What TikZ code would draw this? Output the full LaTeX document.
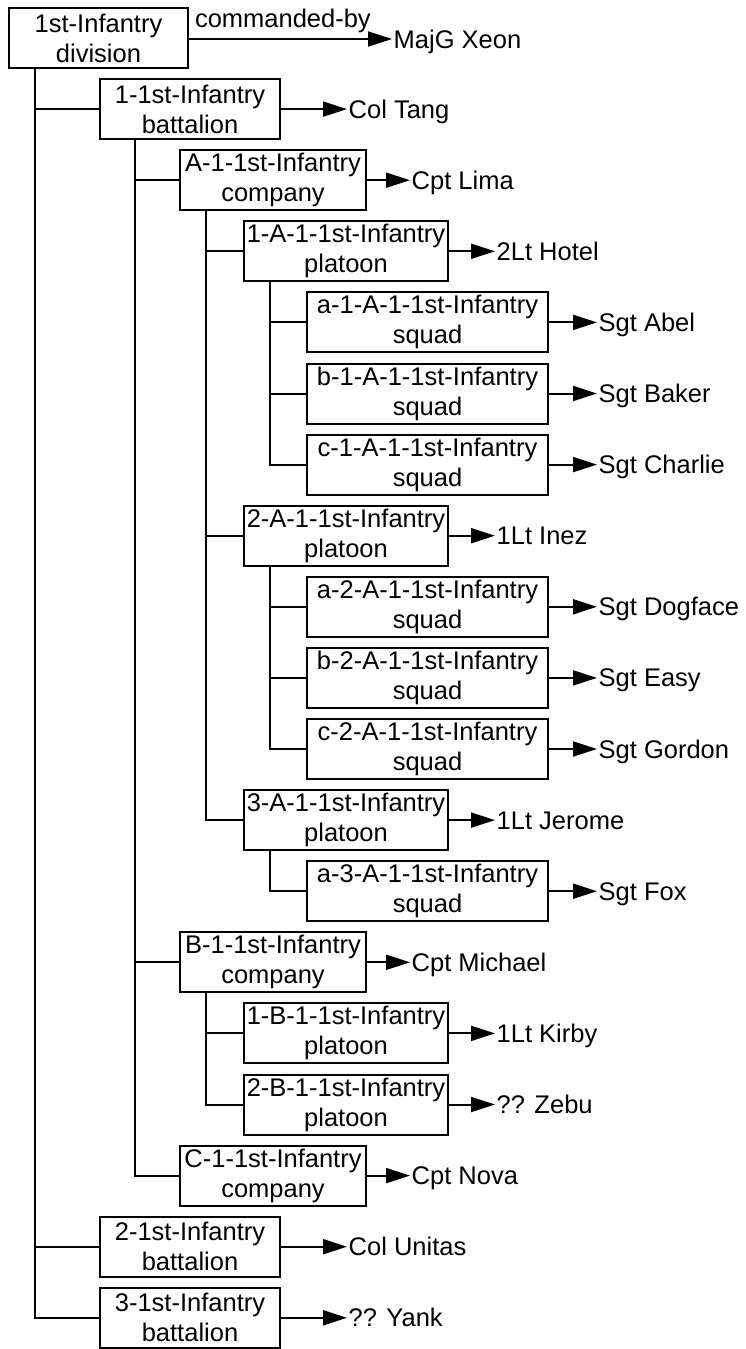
\documentclass[tikz,border=0pt]{standalone}
\usepackage{fontspec}
\setmainfont{Liberation Sans}
\usetikzlibrary{arrows.meta}

\begin{document}
\begin{tikzpicture}[x=1pt, y=-1pt,
    unidad/.style={draw, line width=2pt, align=center, minimum height=60pt, inner sep=0pt, font=\fontsize{25.5}{30}\selectfont},
    division/.style={unidad, minimum width=179pt},
    batallon/.style={unidad, minimum width=180pt},
    compania/.style={unidad, minimum width=186pt},
    peloton/.style={unidad, minimum width=204pt},
    escuadra/.style={unidad, minimum width=241pt},
    jefe/.style={anchor=west, inner sep=1.5pt, font=\fontsize{25.5}{30}\selectfont, text height=18pt, text depth=0pt},
    mando/.style={line width=2pt, -{Triangle[length=24pt, width=15pt]}},
    rama/.style={line width=2pt}]
            % Marco de la figura
            \useasboundingbox (0,0) rectangle (745,1349);

            % Division y su jefe
            \node[division] (div) at (98.5,38) {1st-Infantry\\division};
            \node[jefe] (cdiv) at (392,39) {MajG Xeon};
            \draw[mando] (div.east |- cdiv.west) -- node[pos=0, anchor=south west, inner xsep=5pt, inner ysep=5pt, font=\fontsize{25.5}{30}\selectfont] {commanded-by} (cdiv.west);

            % Batallones
            \node[batallon] (bat1) at (190,109.1) {1-1st-Infantry\\battalion};
            \node[batallon] (bat2) at (190,1246.7) {2-1st-Infantry\\battalion};
            \node[batallon] (bat3) at (190,1317.8) {3-1st-Infantry\\battalion};

            % Companias
            \node[compania] (coA) at (273,180.2) {A-1-1st-Infantry\\company};
            \node[compania] (coB) at (273,962.3) {B-1-1st-Infantry\\company};
            \node[compania] (coC) at (273,1175.6) {C-1-1st-Infantry\\company};

            % Pelotones
            \node[peloton] (plA1) at (346,251.3) {1-A-1-1st-Infantry\\platoon};
            \node[peloton] (plA2) at (346,535.7) {2-A-1-1st-Infantry\\platoon};
            \node[peloton] (plA3) at (346,820.1) {3-A-1-1st-Infantry\\platoon};
            \node[peloton] (plB1) at (346,1033.4) {1-B-1-1st-Infantry\\platoon};
            \node[peloton] (plB2) at (346,1104.5) {2-B-1-1st-Infantry\\platoon};

            % Escuadras
            \node[escuadra] (sqA1a) at (427.5,322.4) {a-1-A-1-1st-Infantry\\squad};
            \node[escuadra] (sqA1b) at (427.5,393.5) {b-1-A-1-1st-Infantry\\squad};
            \node[escuadra] (sqA1c) at (427.5,464.6) {c-1-A-1-1st-Infantry\\squad};
            \node[escuadra] (sqA2a) at (427.5,606.8) {a-2-A-1-1st-Infantry\\squad};
            \node[escuadra] (sqA2b) at (427.5,677.9) {b-2-A-1-1st-Infantry\\squad};
            \node[escuadra] (sqA2c) at (427.5,749) {c-2-A-1-1st-Infantry\\squad};
            \node[escuadra] (sqA3a) at (427.5,891.2) {a-3-A-1-1st-Infantry\\squad};

            % Jefes
            \node[jefe] (cbat1) at (347,109.1) {Col Tang};
            \node[jefe] (cbat2) at (347,1246.7) {Col Unitas};
            \node[jefe] (cbat3) at (347,1317.8) {?? Yank};
            \node[jefe] (ccoA) at (410,180.2) {Cpt Lima};
            \node[jefe] (ccoB) at (410,962.3) {Cpt Michael};
            \node[jefe] (ccoC) at (410,1175.6) {Cpt Nova};
            \node[jefe] (cplA1) at (495,251.3) {2Lt Hotel};
            \node[jefe] (cplA2) at (495,535.7) {1Lt Inez};
            \node[jefe] (cplA3) at (495,820.1) {1Lt Jerome};
            \node[jefe] (cplB1) at (495,1033.4) {1Lt Kirby};
            \node[jefe] (cplB2) at (495,1104.5) {?? Zebu};
            \node[jefe] (csqA1a) at (597,322.4) {Sgt Abel};
            \node[jefe] (csqA1b) at (597,393.5) {Sgt Baker};
            \node[jefe] (csqA1c) at (597,464.6) {Sgt Charlie};
            \node[jefe] (csqA2a) at (597,606.8) {Sgt Dogface};
            \node[jefe] (csqA2b) at (597,677.9) {Sgt Easy};
            \node[jefe] (csqA2c) at (597,749) {Sgt Gordon};
            \node[jefe] (csqA3a) at (597,891.2) {Sgt Fox};

            % Flechas de mando
            \foreach \u in {bat1,bat2,bat3,coA,coB,coC,plA1,plA2,plA3,plB1,plB2,sqA1a,sqA1b,sqA1c,sqA2a,sqA2b,sqA2c,sqA3a}
                \draw[mando] (\u.east) -- (c\u.west);

            % Ramas del arbol
            \foreach \h in {bat1,bat2,bat3}
                \draw[rama] ([xshift=27pt]div.south west) |- (\h.west);
            \foreach \h in {coA,coB,coC}
                \draw[rama] ([xshift=35.5pt]bat1.south west) |- (\h.west);
            \foreach \h in {plA1,plA2,plA3}
                \draw[rama] ([xshift=27pt]coA.south west) |- (\h.west);
            \foreach \h in {plB1,plB2}
                \draw[rama] ([xshift=27pt]coB.south west) |- (\h.west);
            \foreach \h in {sqA1a,sqA1b,sqA1c}
                \draw[rama] ([xshift=26.5pt]plA1.south west) |- (\h.west);
            \foreach \h in {sqA2a,sqA2b,sqA2c}
                \draw[rama] ([xshift=26.5pt]plA2.south west) |- (\h.west);
            \draw[rama] ([xshift=26.5pt]plA3.south west) |- (sqA3a.west);
        \end{tikzpicture}
\end{document}
